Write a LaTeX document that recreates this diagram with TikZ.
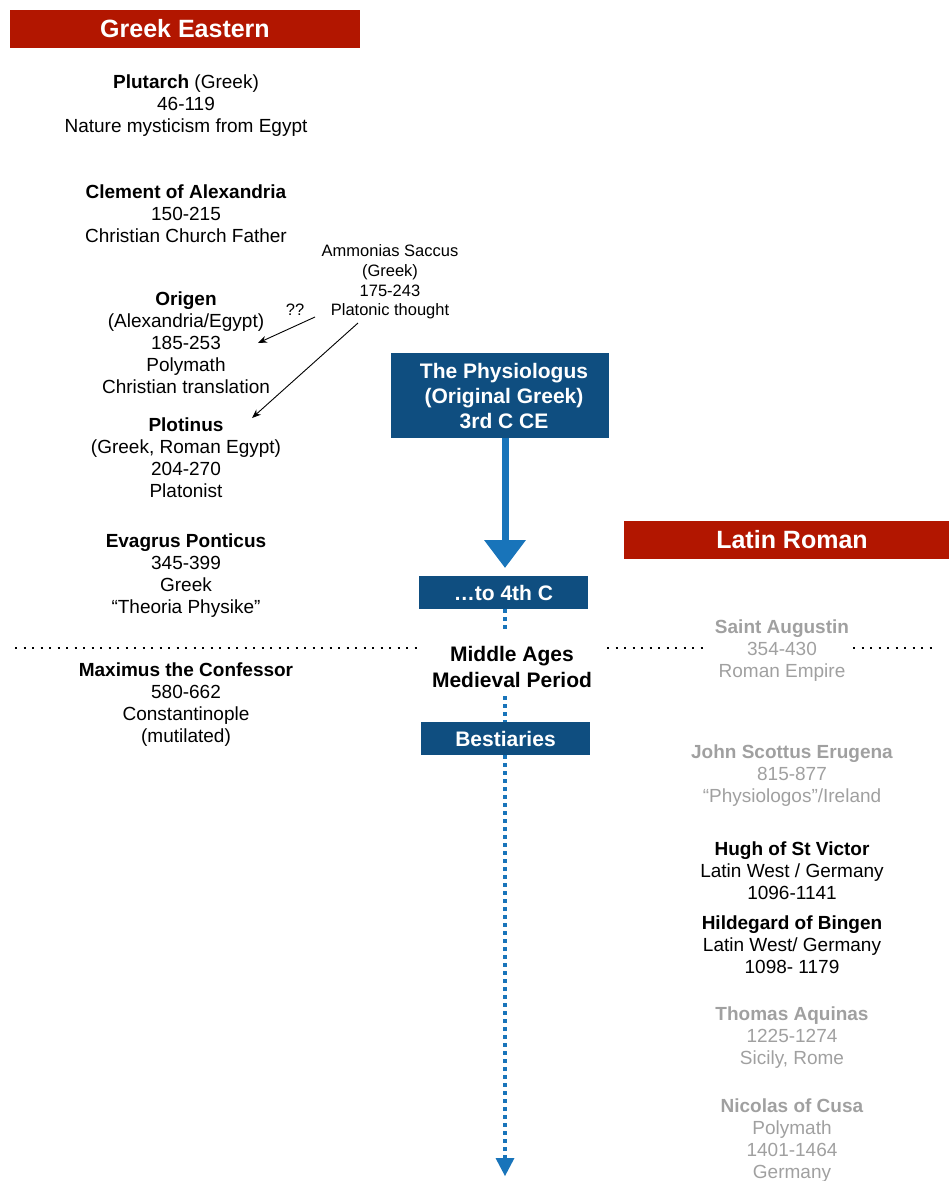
\documentclass[tikz,border=0pt]{standalone}
\usepackage{fontspec}
\setmainfont{Liberation Sans}
\usetikzlibrary{arrows.meta}
\definecolor{hdred}{RGB}{178,22,0}
\definecolor{boxblue}{RGB}{15,78,128}
\definecolor{arrblue}{RGB}{24,116,186}
\definecolor{ltgray}{RGB}{160,160,160}
\tikzset{
  person/.style={align=center,inner sep=1pt,font=\fontsize{19}{22}\selectfont},
  grayperson/.style={person,text=ltgray},
  small/.style={align=center,inner sep=1pt,font=\fontsize{16.5}{19.8}\selectfont},
  headtext/.style={text=white,font=\fontsize{25}{28}\selectfont\bfseries},
  boxtext/.style={text=white,align=center,font=\fontsize{21}{25}\selectfont\bfseries},
  sepline/.style={line width=2.2pt,dash pattern=on 2.2pt off 6.3pt},
  bluedots/.style={draw=arrblue,line width=3.5pt,dash pattern=on 3.5pt off 4.5pt},
  thin arrow/.style={-{Stealth[length=9pt,width=7pt]},line width=0.9pt}
}
\begin{document}
\begin{tikzpicture}[x=1pt,y=-1pt]
\useasboundingbox (0,0) rectangle (949,1181);
% headers
\fill[hdred] (10,10) rectangle (360,48);
\node[headtext] (greek) at (185,29) {Greek Eastern};
\fill[hdred] (624,521) rectangle (949,559);
\node[headtext] (latin) at (792,540) {Latin Roman};
% blue boxes
\fill[boxblue] (391,353) rectangle (609,438);
\node[boxtext] (phys) at (504,396) {The Physiologus\\(Original Greek)\\3rd C CE};
\coordinate (physb) at (505,438);
\coordinate (physArrow) at (505,568);
\fill[boxblue] (419,576) rectangle (588,609);
\node[boxtext] (fourth) at (503.5,592.5) {\ldots to 4th C};
\coordinate (fourthB) at (505,609);
\fill[boxblue] (421,722) rectangle (590,755);
\node[boxtext] (best) at (505.5,738.5) {Bestiaries};
\coordinate (bestT) at (505,722);
\coordinate (bestB) at (505,755);
% Greek column
\node[person] (plut) at (186,106) {\textbf{Plutarch} (Greek)\\46-119\\Nature mysticism from Egypt};
\node[person] (clem) at (186,214) {\textbf{Clement of Alexandria}\\150-215\\Christian Church Father};
\node[person] (orig) at (186,343) {\textbf{Origen}\\(Alexandria/Egypt)\\185-253\\Polymath\\Christian translation};
\node[person] (plot) at (186,458) {\textbf{Plotinus}\\(Greek, Roman Egypt)\\204-270\\Platonist};
\node[person] (evag) at (186,576) {\textbf{Evagrus Ponticus}\\345-399\\Greek\\``Theoria Physike''};
\node[person] (maxi) at (186,705) {\textbf{Maximus the Confessor}\\580-662\\Constantinople\\(mutilated)};
\node[small] (amm) at (390,282) {Ammonias Saccus\\(Greek)\\175-243\\Platonic thought};
\node[small] (qq) at (295,310) {??};
% arrows from Ammonias
\coordinate (a1s) at (315,317);
\coordinate (a1e) at (258,343);
\coordinate (a2s) at (358,323);
\coordinate (a2e) at (252,418);
\draw[thin arrow] (a1s) -- (a1e);
\draw[thin arrow] (a2s) -- (a2e);
% middle
\node[align=center,font=\fontsize{21}{26}\selectfont\bfseries] (mid) at (512,667) {Middle Ages\\Medieval Period};
\coordinate (midT) at (505,630);
\coordinate (midB) at (505,696);
\coordinate (endT) at (505,1158);
% Latin column
\node[grayperson] (aug) at (782,651) {\textbf{Saint Augustin}\\354-430\\Roman Empire};
\node[grayperson] (john) at (792,776) {\textbf{John Scottus Erugena}\\815-877\\``Physiologos''/Ireland};
\node[person] (hugh) at (792,871) {\textbf{Hugh of St Victor}\\Latin West / Germany\\1096-1141};
\node[person] (hild) at (792,945) {\textbf{Hildegard of Bingen}\\Latin West/ Germany\\1098- 1179};
\node[grayperson] (thom) at (792,1038) {\textbf{Thomas Aquinas}\\1225-1274\\Sicily, Rome};
\node[grayperson] (nico) at (792,1141) {\textbf{Nicolas of Cusa}\\Polymath\\1401-1464\\Germany};
% separator
\coordinate (s1) at (15,648);
\coordinate (s2) at (420,648);
\coordinate (s3) at (607,648);
\coordinate (s4) at (705,648);
\coordinate (s5) at (853,648);
\coordinate (s6) at (932,648);
\draw[sepline] (s1) -- (s2);
\draw[sepline] (s3) -- (s4);
\draw[sepline] (s5) -- (s6);
% blue connectors
\draw[draw=arrblue,line width=7pt,-{Triangle[width=40pt,length=28pt]}] (physb) -- (physArrow);
\draw[bluedots] (fourthB) -- (midT);
\draw[bluedots] (midB) -- (bestT);
\draw[bluedots] (bestB) -- (endT);
\fill[arrblue] (495.5,1158) -- (514.5,1158) -- (505,1176) -- cycle;
\end{tikzpicture}
\end{document}
